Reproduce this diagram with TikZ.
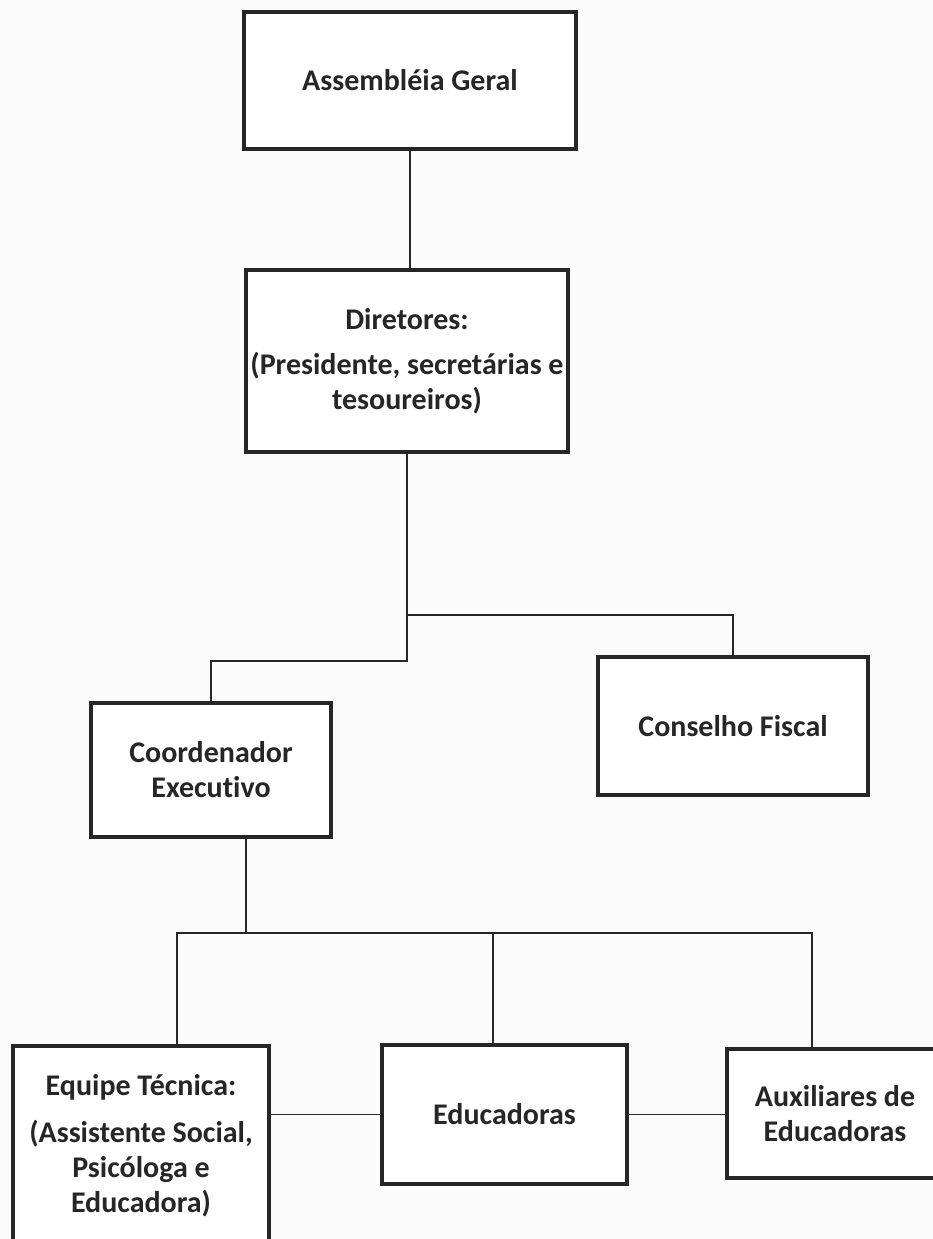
\documentclass[tikz,border=0pt]{standalone}
\usepackage{fontspec}
\setmainfont{Carlito}[Ligatures=NoCommon]
\definecolor{ink}{HTML}{262626}
\definecolor{paper}{HTML}{FBFBFB}
\begin{document}
\begin{tikzpicture}[x=1pt,y=-1pt,
  orgbox/.style={draw=ink, line width=4.5pt, fill=white, text=ink, align=center,
    inner sep=0pt, font=\fontsize{30}{35}\selectfont\bfseries},
  link/.style={draw=ink, line width=1.8pt}]
\fill[paper] (0,0) rectangle (933,1239);
\useasboundingbox (0,0) rectangle (933,1239);

\node[orgbox, minimum width=332pt, minimum height=137pt] (assembleia) at (410,80.5) {Assembléia Geral};
\node[orgbox, minimum width=322pt, minimum height=182pt] (diretores) at (407,361)
  {Diretores:\\[10pt](Presidente, secretárias e\\tesoureiros)};
\node[orgbox, minimum width=270pt, minimum height=138pt] (conselho) at (733,726) {Conselho Fiscal};
\node[orgbox, minimum width=240pt, minimum height=134pt] (coord) at (211,770) {Coordenador\\Executivo};
\node[orgbox, minimum width=256pt, minimum height=200pt] (equipe) at (141,1146)
  {Equipe Técnica:\\[12pt](Assistente Social,\\Psicóloga e\\Educadora)};
\node[orgbox, minimum width=245pt, minimum height=139pt] (educadoras) at (504.5,1114.5) {Educadoras};
\node[orgbox, minimum width=216pt, minimum height=129pt] (auxiliares) at (835,1113.5) {Auxiliares de\\Educadoras};

\coordinate (j1) at (407,615);
\coordinate (j2) at (407,661);
\coordinate (busL) at (177,933);
\coordinate (busR) at (812,933);

\draw[link] (assembleia.south) -- (assembleia.south |- diretores.north);
\draw[link] (diretores.south) -- (j2) -| (coord.north);
\draw[link] (j1) -| (conselho.north);
\draw[link] ([xshift=35pt]coord.south) -- ([xshift=35pt]coord.south |- busL);
\draw[link] ([xshift=36pt]equipe.north) -- (busL) -- (busR) -- ([xshift=-23pt]auxiliares.north);
\draw[link] ([xshift=-11.5pt]educadoras.north) -- ([xshift=-11.5pt]educadoras.north |- busL);
\draw[link] (educadoras.west -| equipe.east) -- (educadoras.west);
\draw[link] (educadoras.east) -- (educadoras.east -| auxiliares.west);
\end{tikzpicture}
\end{document}
